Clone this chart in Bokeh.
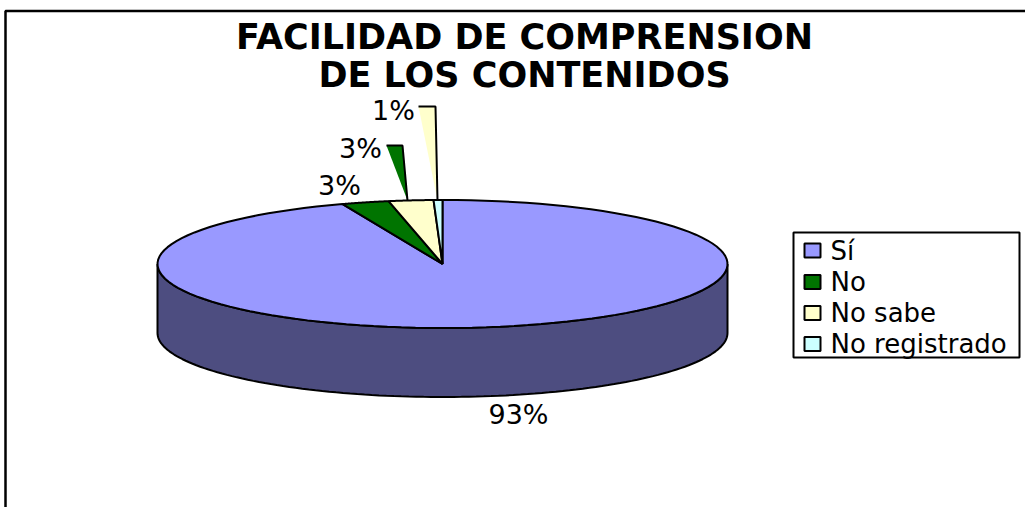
import numpy as np
from bokeh.plotting import figure
from bokeh.models import Range1d
from bokeh.embed import file_html
from bokeh.resources import INLINE
from bokeh.core.properties import value

# ---- data ----
categories = ["Sí", "No", "No sabe", "No registrado"]
shares = [94.3, 2.67, 2.53, 0.5]
point_labels = ["93%", "3%", "3%", "1%"]
colors = ["#9999FF", "#007400", "#FFFFCC", "#CCFFFF"]
wall_color = "#4D4D80"
title_lines = ["FACILIDAD DE COMPRENSION", "DE LOS CONTENIDOS"]

# ---- layout (page pixels) ----
W, H = 1025, 507
CX, CY, RX, RY, DEPTH = 442, 263.5, 285, 64, 69
FONT = "DejaVu Sans"

p = figure(width=W, height=H, output_backend="svg", toolbar_location=None,
           x_range=Range1d(0, W), y_range=Range1d(H, 0),
           min_border=0, outline_line_color=None, background_fill_color="white")
p.xaxis.visible = False
p.yaxis.visible = False
p.grid.visible = False

# chart-area frame: only the top and left edges are inside the picture
p.line([5, 5, W], [H, 10.5, 10.5], line_color="black", line_width=2.5)


def rim(a0, a1, n=120):
    t = np.linspace(a0, a1, n)
    return CX + RX * np.sin(t), CY - RY * np.cos(t)


# side wall
xb, yb = rim(np.pi / 2, 3 * np.pi / 2)
wx = np.concatenate([xb, xb[::-1]])
wy = np.concatenate([yb, yb[::-1] + DEPTH])
p.patch(wx, wy, fill_color=wall_color, line_color="black", line_width=2)

# top slices, clockwise from twelve o'clock
fractions = np.cumsum([0] + shares) / sum(shares) * 2 * np.pi
for i, c in enumerate(colors):
    x, y = rim(fractions[i], fractions[i + 1])
    p.patch(np.r_[CX, x], np.r_[CY, y], fill_color=c, line_color="black", line_width=2)

# leader wedges of the two lifted labels
leaders = [([407, 402, 386], [200, 145, 145], colors[1]),
           ([437, 435, 418], [200, 106, 106], colors[2])]
for lx, ly, c in leaders:
    p.patch(lx, ly, fill_color=c, line_color=None)
    p.line(lx, ly, line_color="black", line_width=2)

# percentage labels
lab_x = [518, 339, 360, 393]
lab_y = [414, 185, 148, 110]
p.text(lab_x, lab_y, text=point_labels, text_font=value(FONT), text_font_size="27px",
       text_align="center", text_baseline="middle", text_color="black")

# title
p.text([524, 524], [36, 74], text=title_lines, text_font=value(FONT), text_font_size="35px",
       text_font_style="bold", text_align="center", text_baseline="middle", text_color="black")

# legend box, swatches and labels
LX0, LX1, LY0, LY1 = 793, 1019, 232, 357
row_y = [250, 281.5, 312.5, 343.5]
p.quad(left=[LX0], right=[LX1], top=[LY0], bottom=[LY1], fill_color="white",
       line_color="black", line_width=2)
p.quad(left=[804] * 4, right=[820] * 4, top=[y - 7 for y in row_y], bottom=[y + 7 for y in row_y],
       fill_color=colors, line_color="black", line_width=2)
p.text([830] * 4, row_y, text=categories, text_font=value(FONT), text_font_size="26px",
       text_align="left", text_baseline="middle", text_color="black")

html = file_html(p, INLINE)
html = html.replace("<head>", "<head><style>html,body{margin:0;padding:0;overflow:hidden}</style>", 1)
open("out.html", "w").write(html)
